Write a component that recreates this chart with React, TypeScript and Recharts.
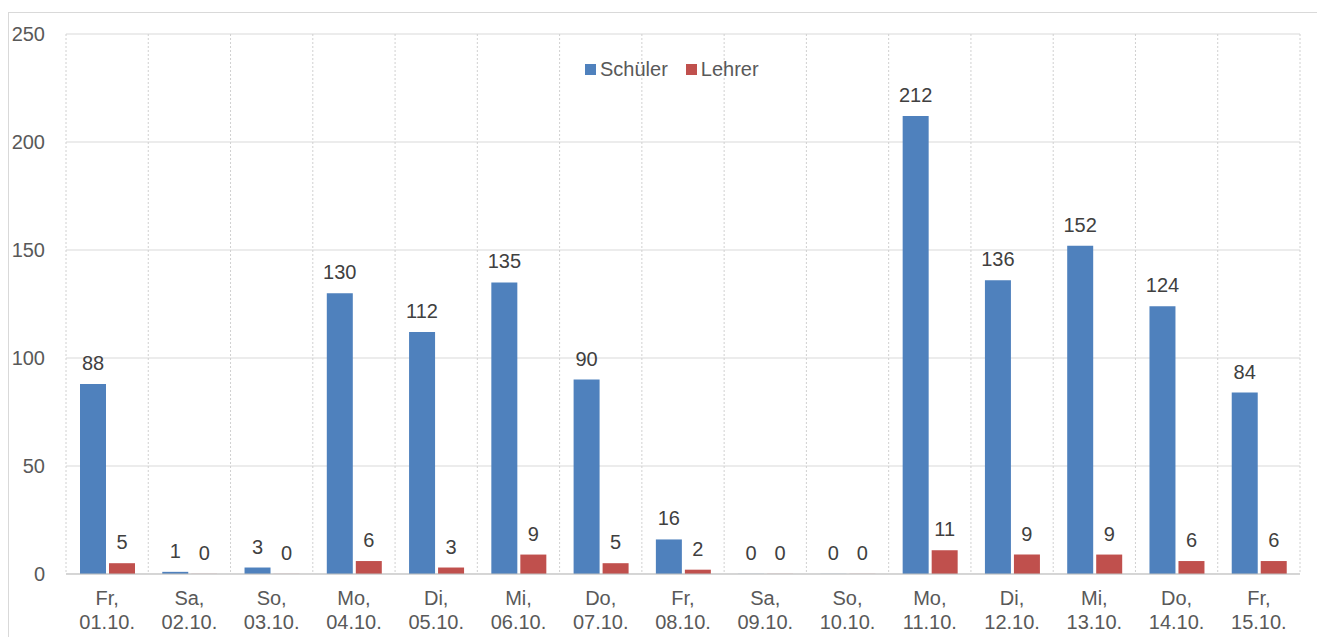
import React from 'react';
import {
    BarChart,
    Bar,
    XAxis,
    YAxis,
    CartesianGrid,
    LabelList,
} from 'recharts';

const weekdays = ['Fr,', 'Sa,', 'So,', 'Mo,', 'Di,', 'Mi,', 'Do,', 'Fr,', 'Sa,', 'So,', 'Mo,', 'Di,', 'Mi,', 'Do,', 'Fr,'];
const dates = ['01.10.', '02.10.', '03.10.', '04.10.', '05.10.', '06.10.', '07.10.', '08.10.', '09.10.', '10.10.', '11.10.', '12.10.', '13.10.', '14.10.', '15.10.'];
const schueler = [88, 1, 3, 130, 112, 135, 90, 16, 0, 0, 212, 136, 152, 124, 84];
const lehrer = [5, 0, 0, 6, 3, 9, 5, 2, 0, 0, 11, 9, 9, 6, 6];
const yTicks = [0, 50, 100, 150, 200, 250];

const BLUE = '#4f81bd';
const RED = '#c0504d';
const FONT = '"Liberation Sans", Arial, sans-serif';

const chartData = dates.map((d, i) => ({
    key: d,
    schueler: schueler[i],
    lehrer: lehrer[i],
}));

function DayTick(props: any) {
    const { x, y, payload } = props;
    const i = payload.index;
    return (
        <g transform={`translate(${x},${y})`}>
            <text textAnchor="middle" fill="#595959" fontSize={20} fontFamily={FONT} y={23}>
                {weekdays[i]}
            </text>
            <text textAnchor="middle" fill="#595959" fontSize={20} fontFamily={FONT} y={47}>
                {dates[i]}
            </text>
        </g>
    );
}

export default function App() {
    return (
        <div style={{ paddingTop: 4 }}>
            <div
                style={{
                    position: 'relative',
                    width: 1314,
                    height: 640,
                    boxSizing: 'border-box',
                    border: '1px solid #d9d9d9',
                    fontFamily: FONT,
                }}
            >
                <BarChart
                    width={1312}
                    height={626}
                    data={chartData}
                    margin={{ top: 21, right: 21, left: 0, bottom: 5 }}
                    barGap={3}
                >
                    {/* horizontal solid lines */}
                    <CartesianGrid vertical={false} stroke="#d9d9d9" />
                    {/* dotted category separators */}
                    <CartesianGrid
                        horizontal={false}
                        stroke="#d0d0d0"
                        strokeDasharray="2 2"
                        verticalCoordinatesGenerator={({ offset }: any) =>
                            dates
                                .map((_, i) => offset.left + (i * offset.width) / dates.length)
                                .concat([offset.left + offset.width])
                        }
                    />
                    <Bar dataKey="schueler" fill={BLUE} barSize={26} minPointSize={0.1} isAnimationActive={false}>
                        <LabelList
                            dataKey="schueler"
                            position="top"
                            offset={14}
                            fill="#404040"
                            fontSize={20}
                            fontFamily={FONT}
                        />
                    </Bar>
                    <Bar dataKey="lehrer" fill={RED} barSize={26} minPointSize={0.1} isAnimationActive={false}>
                        <LabelList
                            dataKey="lehrer"
                            position="top"
                            offset={14}
                            fill="#404040"
                            fontSize={20}
                            fontFamily={FONT}
                        />
                    </Bar>
                    <XAxis
                        dataKey="key"
                        height={60}
                        tickLine={false}
                        axisLine={{ stroke: '#bfbfbf' }}
                        tick={<DayTick />}
                        interval={0}
                    />
                    <YAxis
                        width={57}
                        domain={[0, 250]}
                        ticks={yTicks}
                        axisLine={false}
                        tickLine={false}
                        tickMargin={15}
                        tick={{ fill: '#595959', fontSize: 20, fontFamily: FONT }}
                    />
                </BarChart>
                <div
                    style={{
                        position: 'absolute',
                        left: 576,
                        top: 44,
                        display: 'flex',
                        alignItems: 'center',
                        fontSize: 20,
                        color: '#595959',
                        lineHeight: '24px',
                    }}
                >
                    <span style={{ width: 11, height: 11, background: BLUE, display: 'inline-block', marginRight: 4 }} />
                    <span style={{ marginRight: 18 }}>Schüler</span>
                    <span style={{ width: 11, height: 11, background: RED, display: 'inline-block', marginRight: 4 }} />
                    <span>Lehrer</span>
                </div>
            </div>
        </div>
    );
}
